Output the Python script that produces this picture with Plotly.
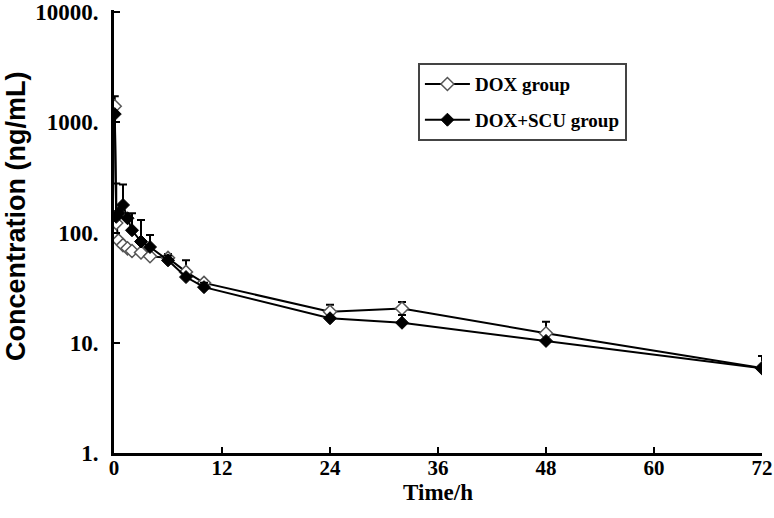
import plotly.graph_objects as go

# ---- data ----
time_h = [0.083, 0.25, 0.5, 1, 1.5, 2, 3, 4, 6, 8, 10, 24, 32, 48, 72]
dox = [1400, 122, 85, 77, 72, 68, 66, 61, 59, 44, 35, 19.1, 20.5, 12.2, 5.9]
dox_err = [330, 0, 0, 0, 0, 0, 0, 0, 5, 12, 2, 3, 3, 3.3, 1.7]
dox_scu = [1190, 139, 150, 178, 135, 105, 83, 74, 56, 39.5, 32, 16.7, 15.2, 10.4, 5.87]
dox_scu_err = [0, 140, 0, 95, 0, 45, 47, 21, 6, 0, 3, 0, 2.7, 0, 0]
zeros = [0] * len(time_h)

x_ticks = [0, 12, 24, 36, 48, 60, 72]
y_ticks = [1, 10, 100, 1000, 10000]
y_ticktext = ["1.", "10.", "100.", "1000.", "10000."]

serif = "Liberation Serif"

fig = go.Figure()
fig.add_trace(go.Scatter(
    x=time_h, y=dox, name="DOX group", mode="lines+markers",
    legendgroup="a",
    line=dict(color="black", width=2),
    marker=dict(symbol="diamond", size=10, color="white",
                line=dict(color="#555555", width=1.5)),
    error_y=dict(type="data", symmetric=False, array=dox_err, arrayminus=zeros,
                 color="black", thickness=2, width=4),
))
fig.add_trace(go.Scatter(
    x=time_h, y=dox_scu, name="DOX+SCU group", mode="lines+markers",
    legendgroup="b",
    line=dict(color="black", width=2),
    marker=dict(symbol="diamond", size=10, color="black",
                line=dict(color="black", width=1)),
    error_y=dict(type="data", symmetric=False, array=dox_scu_err, arrayminus=zeros,
                 color="black", thickness=2, width=4),
))

fig.update_layout(
    width=774, height=518,
    margin=dict(l=114, r=12, t=10, b=65),
    plot_bgcolor="white", paper_bgcolor="white",
    font=dict(family=serif, size=21, color="black", weight="bold"),
    showlegend=True,
    legend=dict(
        x=0.469, y=0.88, xanchor="left", yanchor="top",
        bordercolor="#444444", borderwidth=2, bgcolor="white",
        font=dict(family=serif, size=19, color="black", weight="bold"),
        tracegroupgap=8, entrywidth=140, itemwidth=45,
    ),
    annotations=[dict(
        text="Concentration (ng/mL)", textangle=-90,
        xref="paper", yref="paper", x=-0.151, y=0.533,
        xanchor="center", yanchor="middle", showarrow=False,
        font=dict(family="Liberation Sans", size=27, weight="bold", color="black"),
    )],
)
fig.update_xaxes(
    range=[0, 72], tickvals=x_ticks, ticktext=[str(v) for v in x_ticks],
    showline=True, linecolor="black", linewidth=3,
    ticks="inside", ticklen=6, tickwidth=2, tickcolor="black",
    showgrid=False, zeroline=False, automargin=False, ticklabelstandoff=-6,
    tickfont=dict(family=serif, size=21, weight="bold"),
    title=dict(text="Time/h", standoff=0,
               font=dict(family=serif, size=23, weight="bold")),
)
fig.update_yaxes(
    type="log", range=[0, 4.02], tickvals=y_ticks, ticktext=y_ticktext,
    showline=True, linecolor="black", linewidth=3,
    ticks="inside", ticklen=6, tickwidth=2, tickcolor="black",
    showgrid=False, zeroline=False, ticklabelstandoff=8, automargin=False,
    ticklabeloverflow="allow",
    tickfont=dict(family=serif, size=23, weight="bold"),
)

fig.write_html("out.html", config={"displayModeBar": False},
               post_script="document.body.style.margin='0';")
